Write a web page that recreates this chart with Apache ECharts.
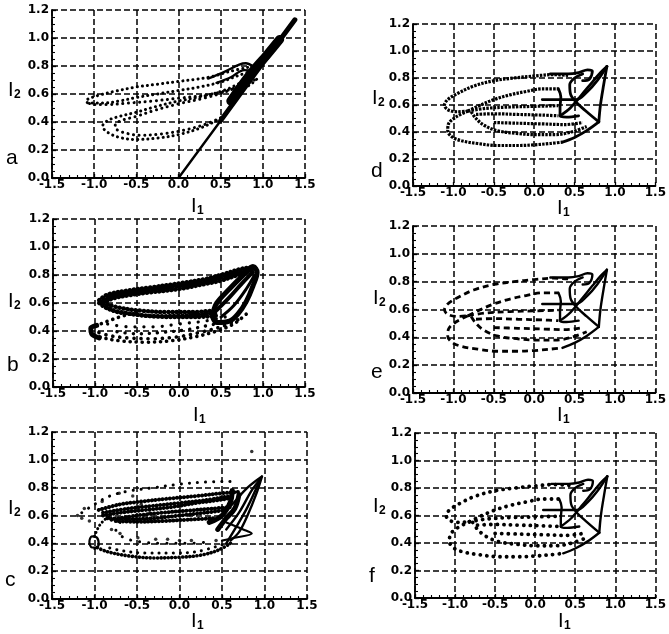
<!DOCTYPE html>
<html>
<head>
<meta charset="utf-8">
<script src="https://cdn.jsdelivr.net/npm/echarts@6/dist/echarts.min.js"></script>
<style>
  html, body { margin: 0; padding: 0; background: #fff; }
  #chart { width: 669px; height: 634px; }
</style>
</head>
<body>
<div id="chart"></div>
<script>
// Axis ticks shared by all six phase portraits (I1 horizontal, I2 vertical)
const xTicks = [-1.5, -1.0, -0.5, 0.0, 0.5, 1.0, 1.5];
const yTicks = [0.0, 0.2, 0.4, 0.6, 0.8, 1.0, 1.2];
const panelLetters = ['a', 'b', 'c', 'd', 'e', 'f'];

// ---- panel a : transient along the diagonal, then loops ----
const aDiag = [[0.0, 0.0], [1.38, 1.13]];
const aBand = [[0.5, 0.41], [0.9, 0.74], [1.38, 1.13]];
const aBandCore = [[0.62, 0.55], [0.85, 0.74], [1.05, 0.88], [1.2, 0.99]];
const aTongue = [[0.82, 0.79], [0.6, 0.76], [0.4, 0.725], [0.2, 0.705], [0.0, 0.69], [-0.25, 0.67], [-0.5, 0.65],
  [-0.75, 0.62], [-0.95, 0.59], [-1.07, 0.565], [-1.1, 0.55], [-1.06, 0.535], [-0.9, 0.535], [-0.7, 0.55],
  [-0.5, 0.575], [-0.25, 0.6], [0.0, 0.625], [0.25, 0.65], [0.5, 0.685], [0.7, 0.73], [0.85, 0.76]];
const aTongueLow = [[0.9, 0.7], [0.6, 0.63], [0.3, 0.59], [0.0, 0.57], [-0.3, 0.55], [-0.6, 0.535],
  [-0.85, 0.525], [-1.02, 0.525], [-1.09, 0.545]];
const aLoopOuter = [[0.55, 0.45], [0.45, 0.41], [0.25, 0.355], [0.0, 0.31], [-0.25, 0.285], [-0.5, 0.275],
  [-0.7, 0.29], [-0.85, 0.33], [-0.9, 0.37], [-0.84, 0.41], [-0.7, 0.44], [-0.5, 0.47], [-0.3, 0.505],
  [0.0, 0.55], [0.3, 0.585], [0.6, 0.64], [0.85, 0.72]];
const aLoopInner = [[0.5, 0.43], [0.3, 0.38], [0.05, 0.34], [-0.2, 0.315], [-0.45, 0.305], [-0.62, 0.32],
  [-0.74, 0.35], [-0.75, 0.38], [-0.68, 0.41], [-0.5, 0.44], [-0.3, 0.48], [0.0, 0.53], [0.3, 0.57],
  [0.6, 0.625], [0.85, 0.7]];
const aLens1 = [[0.35, 0.71], [0.55, 0.76], [0.72, 0.81], [0.8, 0.82], [0.88, 0.8]];
const aLens2 = [[0.45, 0.68], [0.62, 0.72], [0.78, 0.77], [0.9, 0.76]];
const aRight = [[0.78, 0.64], [0.88, 0.68], [0.95, 0.72]];

// ---- panel b ----
const bUpperA = [[-0.95, 0.62], [-0.85, 0.66], [-0.6, 0.69], [-0.35, 0.71], [0.0, 0.74], [0.3, 0.77],
  [0.55, 0.81], [0.75, 0.845], [0.9, 0.855]];
const bUpperB = [[-0.9, 0.6], [-0.8, 0.63], [-0.6, 0.655], [-0.35, 0.675], [0.0, 0.7], [0.3, 0.735],
  [0.5, 0.76], [0.7, 0.8], [0.88, 0.83]];
const bUpperC = [[-0.93, 0.61], [-0.82, 0.645], [-0.6, 0.672], [-0.35, 0.693], [0.0, 0.72], [0.3, 0.752],
  [0.52, 0.785], [0.72, 0.822], [0.89, 0.845]];
const bLowerA = [[-0.95, 0.6], [-0.85, 0.56], [-0.65, 0.53], [-0.4, 0.51], [-0.1, 0.5], [0.2, 0.5], [0.45, 0.51]];
const bLowerB = [[-0.85, 0.59], [-0.7, 0.565], [-0.45, 0.545], [-0.15, 0.535], [0.15, 0.535], [0.4, 0.545]];
const bLowerC = [[-0.9, 0.6], [-0.78, 0.545], [-0.55, 0.52], [-0.25, 0.505], [0.05, 0.51], [0.3, 0.52], [0.45, 0.53]];
const bTriangle = [[0.4, 0.52], [0.45, 0.6], [0.6, 0.7], [0.75, 0.79], [0.88, 0.86], [0.93, 0.82],
  [0.88, 0.72], [0.8, 0.61], [0.7, 0.52], [0.6, 0.47], [0.45, 0.46], [0.4, 0.5]];
const bTriInner = [[0.45, 0.55], [0.6, 0.64], [0.75, 0.74], [0.88, 0.82]];
const bTriSlit = [[0.5, 0.5], [0.65, 0.58], [0.8, 0.7], [0.9, 0.8]];
const bLow1 = [[0.8, 0.52], [0.65, 0.45], [0.45, 0.4], [0.2, 0.36], [-0.1, 0.33], [-0.4, 0.32], [-0.7, 0.33],
  [-0.95, 0.36], [-1.05, 0.4], [-1.0, 0.43], [-0.85, 0.47], [-0.65, 0.51], [-0.5, 0.53]];
const bLow2 = [[0.7, 0.48], [0.5, 0.43], [0.25, 0.39], [0.0, 0.36], [-0.3, 0.345], [-0.6, 0.35], [-0.85, 0.37], [-1.0, 0.4]];
const bLow3 = [[0.6, 0.47], [0.35, 0.44], [0.1, 0.41], [-0.2, 0.39], [-0.5, 0.38], [-0.8, 0.4]];
const bLow4 = [[0.55, 0.5], [0.3, 0.47], [0.0, 0.45], [-0.3, 0.43], [-0.6, 0.43], [-0.85, 0.45]];
const bTip = [[-0.95, 0.35], [-1.04, 0.38], [-1.05, 0.42], [-0.98, 0.44]];

// ---- panel c ----
const cOuter = [[-1.15, 0.62], [-1.0, 0.68], [-0.82, 0.74], [-0.6, 0.775], [-0.3, 0.8], [0.0, 0.825],
  [0.3, 0.84], [0.6, 0.845]];
const cMass1 = [[-0.95, 0.64], [-0.7, 0.68], [-0.45, 0.7], [-0.15, 0.72], [0.2, 0.74], [0.5, 0.76], [0.7, 0.77]];
const cMass2 = [[-0.9, 0.6], [-0.7, 0.62], [-0.4, 0.64], [-0.1, 0.66], [0.2, 0.69], [0.45, 0.71], [0.65, 0.73]];
const cMass3 = [[-0.85, 0.58], [-0.6, 0.575], [-0.3, 0.58], [0.0, 0.6], [0.3, 0.62], [0.55, 0.64]];
const cMass4 = [[-0.75, 0.56], [-0.5, 0.555], [-0.2, 0.56], [0.1, 0.57], [0.4, 0.58]];
const cMass5 = [[-0.9, 0.62], [-0.6, 0.65], [-0.3, 0.67], [0.0, 0.69], [0.3, 0.71], [0.6, 0.74]];
const cMass6 = [[-0.8, 0.57], [-0.5, 0.6], [-0.2, 0.62], [0.1, 0.635], [0.4, 0.65], [0.6, 0.66]];
const cBlock1 = [[0.35, 0.55], [0.5, 0.6], [0.6, 0.7], [0.62, 0.78]];
const cBlock2 = [[0.45, 0.5], [0.55, 0.58], [0.65, 0.65], [0.7, 0.75]];
const cTri1 = [[0.5, 0.6], [0.65, 0.7], [0.8, 0.8], [0.97, 0.88]];
const cTri2 = [[0.97, 0.88], [0.9, 0.75], [0.8, 0.6], [0.7, 0.48], [0.6, 0.42]];
const cTri3 = [[0.55, 0.5], [0.7, 0.62], [0.85, 0.78], [0.95, 0.86]];
const cTri4 = [[0.5, 0.42], [0.65, 0.44], [0.85, 0.47], [0.75, 0.5], [0.55, 0.55]];
const cFan = [[0.95, 0.86], [0.8, 0.66], [0.65, 0.5], [0.55, 0.4]];
const cLow1 = [[0.6, 0.4], [0.45, 0.35], [0.25, 0.315], [0.0, 0.3], [-0.3, 0.295], [-0.6, 0.31], [-0.85, 0.34], [-0.97, 0.37]];
const cLow2 = [[0.5, 0.39], [0.2, 0.34], [-0.1, 0.33], [-0.4, 0.33], [-0.7, 0.35], [-0.9, 0.38]];
const cRing = [[-1.0, 0.36], [-0.95, 0.39], [-0.97, 0.44], [-1.03, 0.45], [-1.06, 0.41], [-1.03, 0.37], [-0.97, 0.37]];
const cRise = [[-1.0, 0.45], [-0.95, 0.52], [-0.88, 0.57], [-0.8, 0.6]];
const cInner = [[-0.7, 0.55], [-0.75, 0.5], [-0.65, 0.44], [-0.45, 0.41], [-0.2, 0.4], [0.1, 0.4], [0.35, 0.41]];
const cDots = [[-1.2, 0.6], [-1.15, 0.58], [-1.12, 0.65], [-1.06, 0.56], [-0.91, 0.7], [-0.71, 0.76],
  [-0.55, 0.74], [-0.45, 0.68], [-0.49, 0.44], [-0.28, 0.43], [-0.14, 0.43], [0.0, 0.42], [0.14, 0.42],
  [0.43, 0.42], [-0.8, 0.5], [-0.7, 0.47], [-0.35, 0.62], [-0.6, 0.63], [0.85, 1.06]];

// ---- panels d, e, f : the same orbit ----
const dOuterTop = [[0.42, 0.82], [0.24, 0.825], [0.0, 0.815], [-0.25, 0.8], [-0.5, 0.78], [-0.75, 0.74],
  [-0.95, 0.685], [-1.07, 0.64], [-1.11, 0.6], [-1.07, 0.565], [-0.95, 0.55], [-0.82, 0.555]];
const dLeftLow = [[-0.82, 0.555], [-0.97, 0.51], [-1.06, 0.46], [-1.07, 0.41], [-1.02, 0.365], [-0.9, 0.335],
  [-0.7, 0.315], [-0.45, 0.3], [-0.2, 0.3], [0.0, 0.305], [0.2, 0.315], [0.35, 0.325]];
const dInnerUp = [[-0.82, 0.555], [-0.7, 0.59], [-0.5, 0.64], [-0.3, 0.675], [-0.1, 0.7], [0.1, 0.72], [0.3, 0.72]];
const dInnerMid = [[-0.82, 0.555], [-0.6, 0.575], [-0.3, 0.585], [0.0, 0.59], [0.3, 0.595]];
const dInnerLow = [[-0.78, 0.55], [-0.72, 0.5], [-0.62, 0.45], [-0.46, 0.41], [-0.22, 0.39], [0.02, 0.38],
  [0.26, 0.38], [0.46, 0.4], [0.65, 0.44]];
const dMidLine = [[-0.72, 0.53], [-0.5, 0.535], [-0.2, 0.53], [0.1, 0.525], [0.3, 0.52]];
const dMidLow = [[-0.5, 0.47], [-0.2, 0.465], [0.1, 0.46], [0.38, 0.455], [0.6, 0.47]];
const dBottomRight = [[0.35, 0.325], [0.5, 0.36], [0.65, 0.41], [0.8, 0.475]];
const dTopRight = [[0.2, 0.83], [0.42, 0.83], [0.55, 0.84], [0.66, 0.86], [0.72, 0.85], [0.68, 0.79], [0.6, 0.78]];
const dVertical = [[0.3, 0.72], [0.33, 0.66], [0.32, 0.58], [0.32, 0.52], [0.4, 0.51], [0.55, 0.52]];
const dDiagonal = [[0.32, 0.52], [0.45, 0.58], [0.58, 0.67], [0.72, 0.77], [0.82, 0.84], [0.9, 0.885]];
const dTriRight = [[0.9, 0.885], [0.86, 0.75], [0.82, 0.6], [0.8, 0.475]];
const dTriLeft = [[0.9, 0.885], [0.78, 0.78], [0.66, 0.7], [0.52, 0.64], [0.35, 0.64], [0.1, 0.64]];
const dCross = [[0.8, 0.475], [0.65, 0.55], [0.52, 0.62], [0.45, 0.68], [0.44, 0.75], [0.5, 0.8], [0.6, 0.83]];

// ---- layout of the six plot boxes ----
const grids = [
  { left: 52, top: 10, width: 253, height: 168 },
  { left: 53, top: 219, width: 252, height: 168 },
  { left: 52, top: 432, width: 255, height: 167 },
  { left: 413, top: 24, width: 248, height: 162 },
  { left: 413, top: 226, width: 249, height: 167 },
  { left: 415, top: 433, width: 248, height: 165 }
];

const INK = '#000';
const solid = w => ({ color: INK, width: w, type: 'solid', cap: 'round', join: 'round' });
const dots = (w, gap) => ({ color: INK, width: w, type: [0.1, gap], cap: 'round' });
const dashes = (w, d, g) => ({ color: INK, width: w, type: [d, g], cap: 'butt' });

const series = [];
function stroke(p, pts, style, smooth) {
  series.push({
    type: 'line', xAxisIndex: p, yAxisIndex: p, data: pts,
    smooth: smooth === undefined ? 0.35 : smooth,
    symbol: 'none', lineStyle: style, silent: true, z: 3
  });
}

// a
stroke(0, aDiag, solid(2.4), false);
stroke(0, aBand, solid(5), false);
stroke(0, aBandCore, solid(9));
stroke(0, aTongue, dots(3, 5));
stroke(0, aTongueLow, dots(3, 5.5));
stroke(0, aLoopOuter, dots(3, 5));
stroke(0, aLoopInner, dots(3, 5.5));
stroke(0, aLens1, solid(2.4));
stroke(0, aLens2, solid(2.2));
stroke(0, aRight, dots(3, 5));

// b
[bUpperA, bUpperB, bUpperC, bLowerA, bLowerB, bLowerC].forEach(d => stroke(1, d, dots(4.5, 4)));
stroke(1, bTriangle, solid(5));
stroke(1, bTriInner, solid(4));
stroke(1, bTriSlit, solid(3));
stroke(1, bLow1, dots(3.6, 6));
stroke(1, bLow2, dots(3.6, 7));
stroke(1, bLow3, dots(3.4, 8));
stroke(1, bLow4, dots(3.2, 9));
stroke(1, bTip, solid(5));

// c
stroke(2, cOuter, dots(3, 8));
[cMass1, cMass2, cMass3, cMass4, cMass5, cMass6].forEach(d => stroke(2, d, dots(4, 3.5)));
[cBlock1, cBlock2].forEach(d => stroke(2, d, solid(5)));
[cTri1, cTri2, cTri3, cFan].forEach(d => stroke(2, d, solid(2.4)));
stroke(2, cTri4, solid(2.2));
stroke(2, cLow1, dots(3.6, 3.5));
stroke(2, cLow2, dots(3, 7));
stroke(2, cRing, solid(2.2));
stroke(2, cRise, dots(3, 4));
stroke(2, cInner, dots(3, 9));
series.push({
  type: 'scatter', xAxisIndex: 2, yAxisIndex: 2, data: cDots, symbolSize: 3.5,
  itemStyle: { color: INK }, silent: true, z: 3
});

// d, e, f: same orbit, different sampling look on the slow loops
const looseParts = [dOuterTop, dLeftLow, dInnerUp, dInnerMid, dInnerLow, dMidLine, dMidLow];
const firmParts = [dBottomRight, dTopRight, dVertical, dDiagonal, dTriRight, dTriLeft, dCross];
const looseStyle = [dashes(3.2, 2.5, 1.2), dashes(2.8, 6, 4), dots(3.8, 6.5)];
[3, 4, 5].forEach((p, k) => {
  looseParts.forEach(d => stroke(p, d, looseStyle[k]));
  firmParts.forEach(d => stroke(p, d, solid(k === 0 ? 2.8 : 2.4)));
});

// axes
const fmt = v => v.toFixed(1);
const labelStyle = m => ({
  color: INK, margin: m, formatter: fmt,
  fontSize: 12, fontWeight: 'bold', fontFamily: 'DejaVu Sans'
});
const gridLine = { show: true, lineStyle: { color: INK, width: 1.5, type: [6, 3] } };
const xAxes = grids.map((g, i) => ({
  type: 'value', gridIndex: i, min: xTicks[0], max: xTicks[xTicks.length - 1], interval: 0.5,
  axisLine: { show: true, onZero: false, lineStyle: { color: INK, width: 1.8 } },
  axisTick: { show: true, inside: true, length: 4, lineStyle: { color: INK, width: 1.3 } },
  minorTick: { show: true, splitNumber: 5, length: 3, lineStyle: { color: INK, width: 1.1 } },
  splitLine: gridLine,
  axisLabel: labelStyle(1)
}));
const yAxes = grids.map((g, i) => ({
  type: 'value', gridIndex: i, min: yTicks[0], max: yTicks[yTicks.length - 1], interval: 0.2,
  axisLine: { show: true, onZero: false, lineStyle: { color: INK, width: 1.8 } },
  axisTick: { show: true, inside: true, length: 4, lineStyle: { color: INK, width: 1.3 } },
  minorTick: { show: true, splitNumber: 4, length: 3, lineStyle: { color: INK, width: 1.1 } },
  splitLine: gridLine,
  axisLabel: labelStyle(3)
}));

// axis names (I with subscript) and panel letters
const textFont = 'Liberation Sans';
const graphics = [];
function symbolName(x, y, sub) {
  graphics.push({ type: 'text', left: x, top: y, style: { text: 'I', font: '20px ' + textFont, fill: INK } });
  graphics.push({ type: 'text', left: x + 6, top: y + 9, style: { text: sub, font: 'bold 12px ' + textFont, fill: INK } });
}
const xNamePos = [[191, 196], [193, 405], [191, 611], [557, 198], [557, 405], [558, 611]];
const yNamePos = [[8, 80], [8, 291], [8, 498], [372, 88], [373, 288], [373, 496]];
const letterPos = [[6, 148], [7, 355], [5, 570], [371, 161], [371, 362], [369, 566]];
xNamePos.forEach(p => symbolName(p[0], p[1], '1'));
yNamePos.forEach(p => symbolName(p[0], p[1], '2'));
letterPos.forEach((p, i) => graphics.push({
  type: 'text', left: p[0], top: p[1], style: { text: panelLetters[i], font: '21px ' + textFont, fill: INK }
}));

const chart = echarts.init(document.getElementById('chart'), null, { renderer: 'canvas' });
chart.setOption({
  animation: false,
  backgroundColor: '#fff',
  grid: grids.map(g => Object.assign({ containLabel: false }, g)),
  xAxis: xAxes,
  yAxis: yAxes,
  series: series,
  graphic: graphics
});
</script>
</body>
</html>
